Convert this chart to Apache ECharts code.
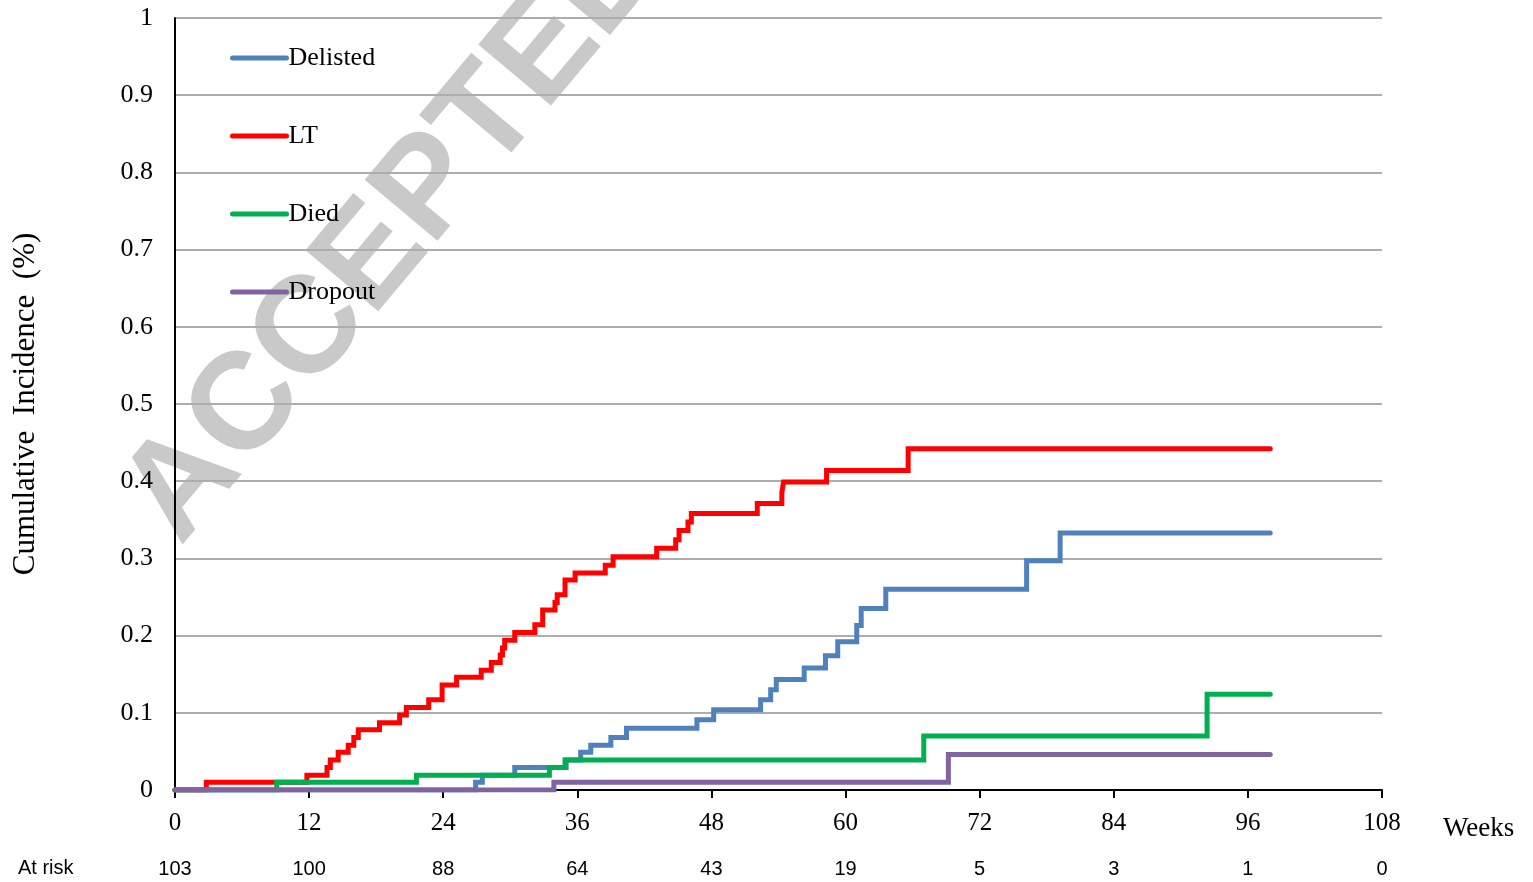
<!DOCTYPE html>
<html>
<head>
<meta charset="utf-8">
<script src="https://cdn.jsdelivr.net/npm/echarts@6/dist/echarts.min.js"></script>
<style>
html,body{margin:0;padding:0;background:#fff;}
#chart{width:1533px;height:882px;}
</style>
</head>
<body>
<div id="chart"></div>
<script>
// Cumulative incidence step curves: [week, value]
const delisted = [[0,0],[26.9,0.010],[27.5,0.019],[30.4,0.029],[35.0,0.039],[36.3,0.049],[37.2,0.058],[39.0,0.068],[40.4,0.080],[46.7,0.091],[48.2,0.104],[52.4,0.117],[53.3,0.130],[53.8,0.143],[56.3,0.158],[58.2,0.174],[59.3,0.192],[61.0,0.213],[61.4,0.235],[63.6,0.260],[76.2,0.297],[79.2,0.333],[98.0,0.333]];
const lt = [[0,0],[2.8,0.010],[11.8,0.019],[13.6,0.029],[13.9,0.039],[14.6,0.049],[15.5,0.058],[16.0,0.068],[16.4,0.078],[18.3,0.087],[20.1,0.097],[20.7,0.107],[22.7,0.117],[23.9,0.136],[25.2,0.146],[27.4,0.155],[28.3,0.165],[29.1,0.175],[29.3,0.184],[29.5,0.194],[30.4,0.204],[32.2,0.214],[32.9,0.233],[34.0,0.243],[34.2,0.253],[34.9,0.272],[35.8,0.281],[38.5,0.291],[39.2,0.302],[43.1,0.313],[44.8,0.324],[45.1,0.336],[45.9,0.347],[46.2,0.358],[52.1,0.371],[54.3,0.385],[54.45,0.399],[58.3,0.414],[65.6,0.442],[98.0,0.442]];
const died = [[0,0],[9.1,0.010],[21.6,0.019],[33.5,0.029],[34.9,0.039],[67.0,0.070],[92.35,0.124],[98.0,0.124]];
const dropout = [[0,0],[33.9,0.010],[69.2,0.046],[98.0,0.046]];

const seriesNames = ['Delisted','LT','Died','Dropout'];
const seriesColors = ['#4F81BD','#FF0000','#00B050','#8064A2'];
const weekTicks = [0,12,24,36,48,60,72,84,96,108];
const atRisk = [103,100,88,64,43,19,5,3,1,0];

const chart = echarts.init(document.getElementById('chart'));
const serif = '"Liberation Serif", "Times New Roman", serif';
const sans = '"Liberation Sans", Arial, sans-serif';
const allData = [delisted, lt, died, dropout];

chart.setOption({
  animation: false,
  backgroundColor: '#fff',
  grid: {left: 175, right: 151, top: 18, bottom: 92, containLabel: false},
  legend: {
    orient: 'vertical', left: 230, top: 45, padding: 0,
    itemWidth: 54, itemHeight: 24, itemGap: 52,
    textStyle: {fontFamily: serif, fontSize: 26, color: '#000', padding: [0,0,0,-3]},
    data: seriesNames,
    itemStyle: {opacity: 0, borderWidth: 0},
    lineStyle: {width: 5, cap: 'round'}
  },
  xAxis: [{
    type: 'value', min: 0, max: 108, interval: 12,
    axisLine: {show: true, lineStyle: {color: '#000', width: 2}},
    axisTick: {show: true, length: 8, inside: false, lineStyle: {color: '#000', width: 2}},
    splitLine: {show: false},
    axisLabel: {fontFamily: serif, fontSize: 25, color: '#000', margin: 21},
    position: 'bottom'
  },{
    type: 'value', min: 0, max: 108, interval: 12,
    position: 'bottom',
    axisLine: {show: false}, axisTick: {show: false}, splitLine: {show: false},
    axisLabel: {fontFamily: sans, fontSize: 20, color: '#000', margin: 69,
      formatter: v => { const i = weekTicks.indexOf(v); return i >= 0 ? String(atRisk[i]) : ''; }}
  }],
  yAxis: {
    type: 'value', min: 0, max: 1, interval: 0.1,
    name: 'Cumulative  Incidence  (%)', nameLocation: 'middle', nameGap: 134,
    nameTextStyle: {fontFamily: serif, fontSize: 31, color: '#000'},
    axisLine: {show: true, lineStyle: {color: '#000', width: 2}},
    axisTick: {show: false},
    splitLine: {show: true, lineStyle: {color: '#ADADAD', width: 2}},
    axisLabel: {fontFamily: serif, fontSize: 26, color: '#000', margin: 22}
  },
  graphic: [
    {type: 'text', z: -10, x: 395, y: 232, rotation: 50 * Math.PI / 180,
      style: {text: 'ACCEPTED', font: 'bold 138px "Liberation Sans", Arial, sans-serif', fill: '#C9C9CA', textAlign: 'center', textVerticalAlign: 'middle'}},
    {type: 'text', x: 1443, y: 829,
      style: {text: 'Weeks', font: '27px "Liberation Serif", serif', fill: '#000', textAlign: 'left', textVerticalAlign: 'middle'}},
    {type: 'text', x: 18, y: 868,
      style: {text: 'At risk', font: '20px "Liberation Sans", Arial, sans-serif', fill: '#000', textAlign: 'left', textVerticalAlign: 'middle'}}
  ],
  series: seriesNames.map((n, i) => ({
    name: n, type: 'line', step: 'end', data: allData[i],
    symbol: 'none', showSymbol: false, xAxisIndex: 0,
    itemStyle: {color: seriesColors[i]},
    lineStyle: {color: seriesColors[i], width: 5, cap: 'round', join: 'miter'}
  }))
});
</script>
</body>
</html>
